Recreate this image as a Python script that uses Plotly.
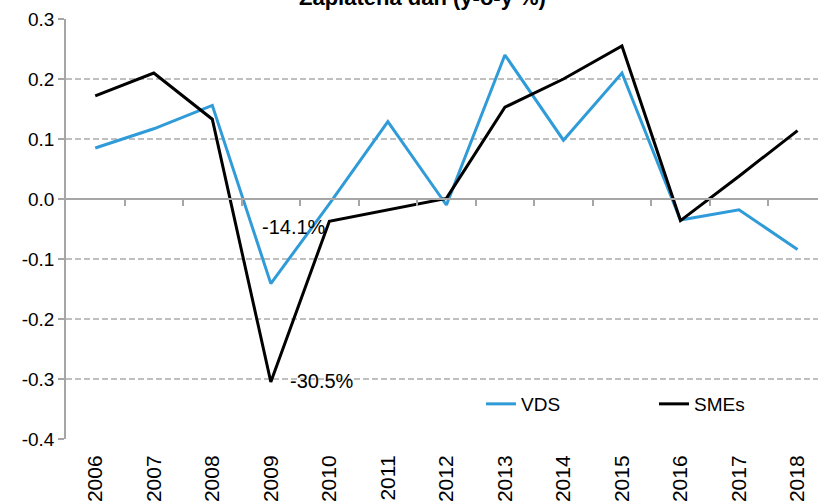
import plotly.graph_objects as go

years = ["2006", "2007", "2008", "2009", "2010", "2011", "2012",
         "2013", "2014", "2015", "2016", "2017", "2018"]
vds = [0.085, 0.117, 0.156, -0.141, -0.008, 0.129, -0.010,
       0.240, 0.098, 0.210, -0.035, -0.018, -0.084]
smes = [0.172, 0.210, 0.133, -0.305, -0.037, -0.018, 0.001,
        0.153, 0.200, 0.255, -0.036, 0.038, 0.114]
y_ticks = [0.3, 0.2, 0.1, 0.0, -0.1, -0.2, -0.3, -0.4]
y_tick_labels = ["0.3", "0.2", "0.1", "0.0", "-0.1", "-0.2", "-0.3", "-0.4"]
title_text = "Zaplatená daň (y-o-y %)"
label_vds = "-14.1%"
label_smes = "-30.5%"

idx = list(range(len(years)))
boundaries = [i + 0.5 for i in idx[:-1]]

FONT = "Liberation Sans, Arial, sans-serif"
GRID = "#BFBFBF"
AXIS = "#A6A6A6"
PLOT_W = 752

fig = go.Figure()
fig.add_trace(go.Scatter(x=idx, y=vds, mode="lines", name="VDS", legend="legend",
                         line=dict(color="#2F9BD8", width=3)))
fig.add_trace(go.Scatter(x=idx, y=smes, mode="lines", name="SMEs", legend="legend2",
                         line=dict(color="#000000", width=3)))
# helper invisible trace to carry the zero-crossing category axis
fig.add_trace(go.Scatter(x=idx, y=smes, xaxis="x2", mode="lines",
                         line=dict(color="rgba(0,0,0,0)", width=0),
                         showlegend=False, hoverinfo="skip"))

fig.add_annotation(x=3, y=vds[3], text=label_vds, showarrow=False,
                   xanchor="center", yanchor="middle", xshift=23, yshift=57,
                   font=dict(family=FONT, size=20, color="#000000"))
fig.add_annotation(x=3, y=smes[3], text=label_smes, showarrow=False,
                   xanchor="left", yanchor="middle", xshift=17, yshift=1,
                   font=dict(family=FONT, size=20, color="#000000"))
fig.add_annotation(x=(422 - 66) / PLOT_W, xref="paper", y=1.052, yref="paper",
                   text="<b>" + title_text + "</b>",
                   showarrow=False, xanchor="center", yanchor="middle",
                   font=dict(family=FONT, size=22, color="#000000"))

legend_common = dict(orientation="h", xanchor="left", yanchor="middle",
                     y=(439 - 404) / 420,
                     font=dict(family=FONT, size=19, color="#000000"),
                     bgcolor="rgba(0,0,0,0)", borderwidth=0)

xr = [-0.5, 12.35]
fig.update_layout(
    width=818, height=502,
    margin=dict(l=66, r=0, t=19, b=63),
    paper_bgcolor="white", plot_bgcolor="white",
    showlegend=True,
    legend=dict(x=(481 - 66) / PLOT_W, **legend_common),
    legend2=dict(x=(654 - 66) / PLOT_W, **legend_common),
    xaxis=dict(range=xr, tickvals=idx, ticktext=years, tickangle=-90,
               showgrid=False, zeroline=False, showline=False,
               ticks="outside", ticklen=7, tickcolor="rgba(0,0,0,0)",
               tickfont=dict(family=FONT, size=21, color="#000000")),
    xaxis2=dict(range=xr, overlaying="x", anchor="free", position=4 / 7,
                tickvals=boundaries, ticks="outside", ticklen=6, tickwidth=1.5,
                tickcolor=AXIS, showticklabels=False, showline=True,
                linecolor=AXIS, linewidth=1.5, showgrid=False, zeroline=False),
    yaxis=dict(range=[-0.4, 0.3], tickvals=y_ticks, ticktext=y_tick_labels,
               showgrid=True, gridcolor=GRID, griddash="6px,3px", gridwidth=1.5,
               zeroline=False, showline=True, linecolor=AXIS, linewidth=1.5,
               ticks="outside", ticklen=6, tickwidth=1.5, tickcolor=AXIS,
               tickfont=dict(family=FONT, size=19, color="#000000")),
)

fig.write_html("out.html", config={"displayModeBar": False},
               post_script="document.body.style.margin='0';document.body.style.padding='0';")
